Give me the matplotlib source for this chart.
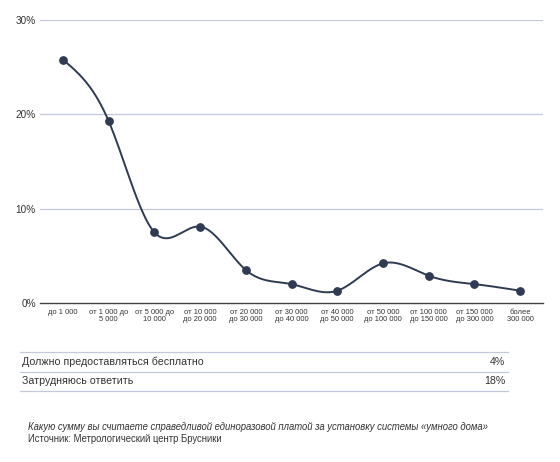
import numpy as np
import matplotlib.pyplot as plt

plt.rcParams['font.family'] = ['Liberation Sans', 'DejaVu Sans']

categories = ['до 1 000', 'от 1 000 до\n5 000', 'от 5 000 до\n10 000', 'от 10 000\nдо 20 000',
              'от 20 000\nдо 30 000', 'от 30 000\nдо 40 000', 'от 40 000\nдо 50 000',
              'от 50 000\nдо 100 000', 'от 100 000\nдо 150 000', 'от 150 000\nдо 300 000',
              'более\n300 000']
values = [25.8, 19.3, 7.5, 8.1, 3.5, 2.0, 1.3, 4.2, 2.9, 2.0, 1.3]
y_ticks = [0, 10, 20, 30]

extra_labels = ['Должно предоставляться бесплатно', 'Затрудняюсь ответить']
extra_values = ['4%', '18%']

note = 'Какую сумму вы считаете справедливой единоразовой платой за установку системы «умного дома»'
source = 'Источник: Метрологический центр Брусники'

line_col = '#2f3b52'
grid_col = '#c3c9da'
text_col = '#333333'


def natural_spline(xs, ys, n=40):
    # естественный кубический сплайн через все точки
    xs = np.asarray(xs, float)
    ys = np.asarray(ys, float)
    m = len(xs)
    h = np.diff(xs)
    A = np.zeros((m, m))
    r = np.zeros(m)
    A[0, 0] = A[-1, -1] = 1
    for i in range(1, m - 1):
        A[i, i - 1] = h[i - 1]
        A[i, i] = 2 * (h[i - 1] + h[i])
        A[i, i + 1] = h[i]
        r[i] = 6 * ((ys[i + 1] - ys[i]) / h[i] - (ys[i] - ys[i - 1]) / h[i - 1])
    M = np.linalg.solve(A, r)
    out_x, out_y = [], []
    for i in range(m - 1):
        t = np.linspace(xs[i], xs[i + 1], n)
        a = xs[i + 1] - t
        b = t - xs[i]
        yy = (M[i] * a ** 3 + M[i + 1] * b ** 3) / (6 * h[i]) \
            + (ys[i] / h[i] - M[i] * h[i] / 6) * a + (ys[i + 1] / h[i] - M[i + 1] * h[i] / 6) * b
        out_x.extend(t)
        out_y.extend(yy)
    return out_x, out_y


fig = plt.figure(figsize=(5.6, 4.62), dpi=100)
ax = fig.add_axes([40 / 560, 1 - 303 / 462, 503 / 560, 283 / 462])

x = np.arange(len(categories))
ax.set_xlim(-0.5, len(categories) - 0.5)
ax.set_ylim(0, 30)

cx, cy = natural_spline(x, values)
ax.plot(cx, cy, color=line_col, lw=1.4, zorder=3)
ax.scatter(x, values, s=28, color=line_col, zorder=4)

ax.set_yticks(y_ticks)
ax.set_yticklabels([f'{v}%' for v in y_ticks], fontsize=7.2, color=text_col)
ax.set_xticks(x)
ax.set_xticklabels(categories, fontsize=5.4, color=text_col, linespacing=1.0)
ax.tick_params(axis='y', length=0, pad=3)
ax.tick_params(axis='x', length=0, pad=4)
for v in y_ticks[1:]:
    ax.axhline(v, color=grid_col, lw=0.9, zorder=1)
for s in ['top', 'right', 'left']:
    ax.spines[s].set_visible(False)
ax.spines['bottom'].set_color('#444444')
ax.spines['bottom'].set_linewidth(1.0)

# таблица с дополнительными ответами
x0, x1 = 20 / 560, 508 / 560
lines_y = [352, 372, 391]
for ly in lines_y:
    fig.add_artist(plt.Line2D([x0, x1], [1 - ly / 462] * 2, color=grid_col, lw=0.9))
for i, (lab, val) in enumerate(zip(extra_labels, extra_values)):
    yy = 1 - (lines_y[i] + lines_y[i + 1]) / 2 / 462
    fig.text(22 / 560, yy, lab, fontsize=7.7, color=text_col, va='center')
    fig.text(505 / 560, yy, val, fontsize=7.7, color=text_col, va='center', ha='right')

fig.text(28 / 560, 1 - 427 / 462, note, fontsize=6.85, style='italic', color=text_col, va='center')
fig.text(28 / 560, 1 - 439 / 462, source, fontsize=6.85, color=text_col, va='center')

fig.savefig('out.png', dpi=100, facecolor='white')
